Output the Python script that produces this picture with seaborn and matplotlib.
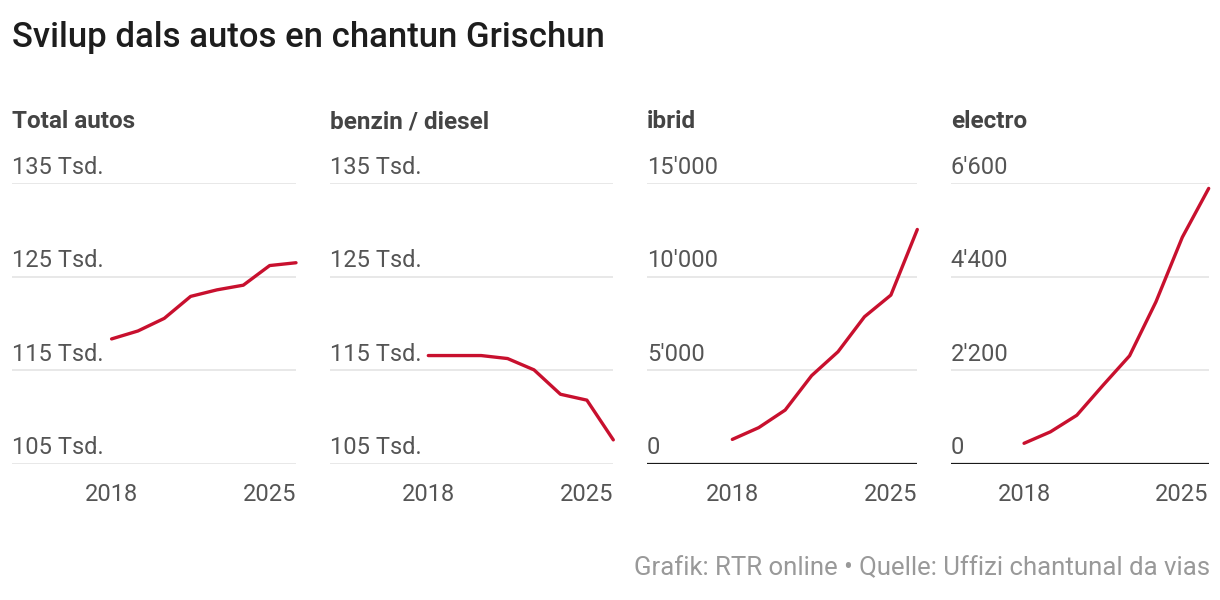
import numpy as np
import matplotlib
matplotlib.use("Agg")
import matplotlib.pyplot as plt
import seaborn as sns

# data (number of cars per year)
years = [2018, 2019, 2020, 2021, 2022, 2023, 2024, 2025]
total_autos = [118350, 119200, 120550, 122900, 123600, 124100, 126200, 126500]
benzin_diesel = [116570, 116570, 116570, 116250, 115040, 112430, 111800, 107550]
ibrid = [1300, 1930, 2870, 4710, 5990, 7860, 9020, 12530]
electro = [480, 750, 1140, 1850, 2540, 3810, 5330, 6480]

panel_titles = ["Total autos", "benzin / diesel", "ibrid", "electro"]
tsd_ticks = [105000, 115000, 125000, 135000]
ibrid_ticks = [0, 5000, 10000, 15000]
electro_ticks = [0, 2200, 4400, 6600]
year_labels = [2018, 2025]

title = "Svilup dals autos en chantun Grischun"
footer = "Grafik: RTR online \u2022 Quelle: Uffizi chantunal da vias"

sns.set_theme(style="white")
plt.rcParams["font.family"] = ["Roboto", "DejaVu Sans"]

W, H = 1220, 600
RED = "#c8102e"
GRID = "#e2e2e2"
TXT = "#555555"

def tsd(v):
    return f"{v // 1000} Tsd."

def apo(v):
    return f"{v:,}".replace(",", "'")

# pixel extents of each panel (left, right, start of x domain)
panels = [
    (total_autos, tsd_ticks, tsd, 12, 296, 2014.22, False),
    (benzin_diesel, tsd_ticks, tsd, 330, 613.3, 2014.28, False),
    (ibrid, ibrid_ticks, apo, 646.7, 917.3, 2014.76, True),
    (electro, electro_ticks, apo, 950.7, 1208.7, 2015.22, True),
]
top_px, bot_px = 183.3, 463.7

fig = plt.figure(figsize=(W / 100, H / 100), dpi=100)
fig.patch.set_facecolor("white")

for (vals, ticks, fmt, l, r, x0, zero), name in zip(panels, panel_titles):
    ax = fig.add_axes([l / W, 1 - bot_px / H, (r - l) / W, (bot_px - top_px) / H])
    ax.set_facecolor("none")
    for t in ticks:
        if zero and t == 0:
            ax.axhline(t, color="#1a1a1a", lw=1.6, zorder=2)
        else:
            ax.axhline(t, color=GRID, lw=1.1, zorder=0)
        ax.annotate(fmt(t), xy=(0, t), xycoords=("axes fraction", "data"),
                    xytext=(0, 7), textcoords="offset points",
                    ha="left", va="baseline", fontsize=17, color=TXT)
    sns.lineplot(x=years, y=vals, ax=ax, color=RED, lw=2.4, clip_on=False, zorder=3)
    ax.set_xlim(x0, 2025)
    ax.set_ylim(ticks[0], ticks[-1])
    ax.set_xticks([])
    ax.set_yticks([])
    ax.set_xlabel("")
    ax.set_ylabel("")
    for s in ax.spines.values():
        s.set_visible(False)
    # year labels below the panel
    ax.annotate(str(year_labels[0]), xy=(year_labels[0], 0),
                xycoords=("data", "axes fraction"), xytext=(0, -27),
                textcoords="offset points", ha="center", va="baseline",
                fontsize=17, color=TXT)
    ax.annotate(str(year_labels[1]), xy=(1, 0), xycoords="axes fraction",
                xytext=(0, -27), textcoords="offset points", ha="right",
                va="baseline", fontsize=17, color=TXT)
    fig.text(l / W, 1 - 122 / H, name, ha="left", va="center",
             fontsize=17.5, fontweight="bold", color="#444444")

fig.text(12 / W, 1 - 37 / H, title, ha="left", va="center",
         fontsize=25, fontweight="medium", color="#1d1d1d")
fig.text(1210 / W, 1 - 568 / H, footer, ha="right", va="center",
         fontsize=18.5, color="#999999")

fig.savefig("out.png", dpi=100, facecolor="white")
